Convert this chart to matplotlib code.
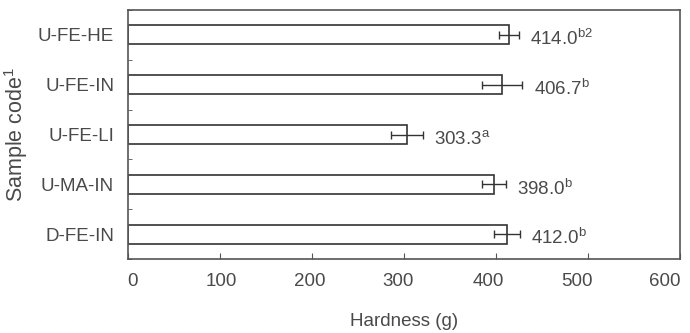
import numpy as np
import matplotlib.pyplot as plt
from matplotlib.transforms import ScaledTranslation

plt.rcParams['font.family'] = ['Liberation Sans', 'DejaVu Sans']
plt.rcParams['mathtext.fontset'] = 'custom'
plt.rcParams['mathtext.rm'] = 'Liberation Sans'
plt.rcParams['mathtext.default'] = 'regular'

# data (top to bottom as in the figure)
samples = ["U-FE-HE", "U-FE-IN", "U-FE-LI", "U-MA-IN", "D-FE-IN"]
hardness = [414.0, 406.7, 303.3, 398.0, 412.0]
errors = [11, 22, 17, 13, 14]
letters = ["b2", "b", "a", "b", "b"]

txt = "#4a4a4a"
line = "#555555"

fig = plt.figure(figsize=(6.9, 3.33), dpi=100)
ax = fig.add_axes([128 / 690, 1 - 259 / 333, 552 / 690, 249 / 333])

y = np.arange(len(samples))[::-1]
ax.barh(y, hardness, height=0.38, color="white", edgecolor="#333333", linewidth=1.2)
ax.errorbar(hardness, y, xerr=errors, fmt="none", ecolor="#333333",
            elinewidth=1.0, capsize=3, capthick=1.0)

for yi, v, e, l in zip(y, hardness, errors, letters):
    ax.annotate(f"{v:.1f}$^{{{l}}}$", xy=(v + e, yi), xytext=(8, -3),
                textcoords="offset points", va="center", ha="left",
                fontsize=13.5, color=txt)

ax.set_xlim(0, 600)
ax.set_ylim(-0.5, 4.5)
ax.set_xticks(np.arange(0, 601, 100))
ax.set_yticks(y)
ax.set_yticklabels(samples)
ax.set_yticks(np.arange(-0.5, 4.6, 1.0), minor=True)

ax.tick_params(axis="x", direction="in", length=4, pad=10, labelsize=13.5,
               labelcolor=txt, color=line)
ax.tick_params(axis="y", which="major", length=0, pad=10, labelsize=13.5,
               labelcolor=txt)
ax.tick_params(axis="y", which="minor", direction="in", length=3, color=line)

# the tick labels in the original sit slightly compressed toward the left
shifts = [4, 1, -2, -6, -8, -11, -15]
for lab, dx in zip(ax.get_xticklabels(), shifts):
    lab.set_transform(lab.get_transform() + ScaledTranslation(dx / 100, 0, fig.dpi_scale_trans))

for s in ax.spines.values():
    s.set_color(line)
    s.set_linewidth(1.2)

ax.set_xlabel("Hardness (g)", fontsize=13.5, color=txt, labelpad=17)
ax.set_ylabel("Sample code$^{1}$", fontsize=15.5, color=txt, labelpad=6)

fig.savefig("out.png", dpi=100)
